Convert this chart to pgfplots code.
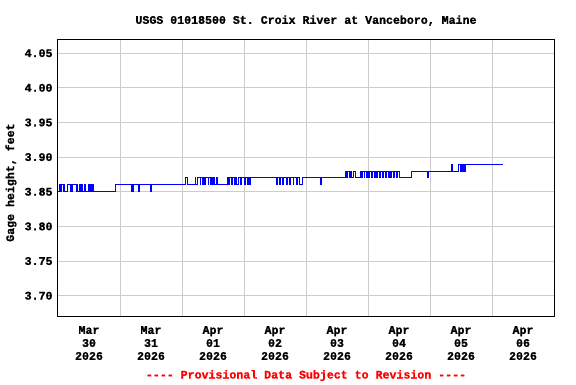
\documentclass[border=0pt]{standalone}
\usepackage{fontspec}
\setmonofont{Liberation Mono}[BoldFeatures={FakeBold=1.2}]
\usepackage{pgfplots}
\pgfplotsset{compat=1.18}
\newcommand\lab{\ttfamily\bfseries\fontsize{11.6}{13}\selectfont}
\pgfplotstableread{
x y
0.000 3.85
0.020 3.86
0.035 3.85
0.050 3.86
0.080 3.85
0.095 3.86
0.110 3.85
0.160 3.86
0.200 3.85
0.210 3.86
0.225 3.85
0.235 3.86
0.290 3.85
0.300 3.86
0.315 3.85
0.345 3.86
0.365 3.85
0.385 3.86
0.395 3.85
0.425 3.86
0.440 3.85
0.495 3.86
0.510 3.85
0.525 3.86
0.540 3.85
0.555 3.86
0.570 3.85
0.919 3.86
1.177 3.85
1.190 3.86
1.200 3.85
1.210 3.86
1.300 3.85
1.310 3.86
1.495 3.85
1.505 3.86
2.048 3.87
2.080 3.86
2.210 3.87
2.225 3.86
2.250 3.87
2.290 3.86
2.300 3.87
2.325 3.86
2.345 3.87
2.360 3.86
2.380 3.87
2.420 3.86
2.430 3.87
2.455 3.86
2.470 3.87
2.490 3.86
2.515 3.87
2.530 3.86
2.560 3.87
2.575 3.86
2.730 3.87
2.750 3.86
2.765 3.87
2.800 3.86
2.815 3.87
2.850 3.86
2.870 3.87
2.885 3.86
2.915 3.87
2.950 3.86
2.965 3.87
3.000 3.86
3.020 3.87
3.050 3.86
3.070 3.87
3.095 3.86
3.110 3.87
3.530 3.86
3.545 3.87
3.575 3.86
3.590 3.87
3.625 3.86
3.640 3.87
3.680 3.86
3.695 3.87
3.740 3.86
3.755 3.87
3.790 3.86
3.805 3.87
3.840 3.86
3.855 3.87
3.900 3.86
3.935 3.87
4.240 3.86
4.255 3.87
4.630 3.88
4.645 3.87
4.665 3.88
4.700 3.87
4.715 3.88
4.730 3.87
4.770 3.88
4.790 3.87
4.880 3.88
4.895 3.87
4.910 3.88
4.935 3.87
4.950 3.88
4.975 3.87
4.990 3.88
5.010 3.87
5.030 3.88
5.055 3.87
5.070 3.88
5.100 3.87
5.115 3.88
5.140 3.87
5.160 3.88
5.190 3.87
5.205 3.88
5.235 3.87
5.250 3.88
5.280 3.87
5.300 3.88
5.330 3.87
5.340 3.88
5.360 3.87
5.385 3.88
5.410 3.87
5.430 3.88
5.460 3.87
5.475 3.88
5.500 3.87
5.694 3.88
5.955 3.87
5.970 3.88
6.339 3.89
6.360 3.88
6.456 3.89
6.495 3.88
6.515 3.89
6.525 3.88
6.545 3.89
6.550 3.88
6.565 3.89
7.172 3.89
}\stage
\begin{document}
\begin{tikzpicture}
\path[use as bounding box] (0,0) rectangle (576pt,384pt);
\begin{axis}[
  at={(58pt,67.5pt)}, anchor=south west, scale only axis,
  width=496pt, height=277.2pt,
  xmin=0, xmax=8, ymin=3.67, ymax=4.07,
  xtick={0.5,1.5,2.5,3.5,4.5,5.5,6.5,7.5},
  xticklabels={{Mar\\30\\2026},{Mar\\31\\2026},{Apr\\01\\2026},{Apr\\02\\2026},{Apr\\03\\2026},{Apr\\04\\2026},{Apr\\05\\2026},{Apr\\06\\2026}},
  minor xtick={1,2,3,4,5,6,7},
  ytick={3.70,3.75,3.80,3.85,3.90,3.95,4.00,4.05},
  xmajorgrids=false, xminorgrids=true, ymajorgrids=true,
  grid style={color=black!20, line width=0.9pt},
  minor grid style={color=black!20, line width=0.9pt},
  major tick length=0pt, minor tick length=0pt,
  axis line style={line width=1pt, black},
  yticklabel style={font=\lab, inner sep=0pt, xshift=-5.3pt,
    /pgf/number format/.cd, fixed, fixed zerofill, precision=2, assume math mode=true},
  xticklabel style={font=\lab, align=center, anchor=north, inner sep=0pt, yshift=-9.5pt},
  title={USGS 01018500 St. Croix River at Vanceboro, Maine},
  title style={font=\lab, at={(axis description cs:0.5,1)}, anchor=base, yshift=9.5pt},
  ylabel={Gage height, feet},
  ylabel style={font=\lab, at={(axis description cs:-0.0948,0.483)}, anchor=center},
  xlabel={---- Provisional Data Subject to Revision ----},
  xlabel style={font=\lab, text=red, at={(axis description cs:0.5,0)}, anchor=base, yshift=-62pt},
]
\addplot[blue, line width=0.9pt, const plot] table[x=x, y=y] {\stage};
\end{axis}
\end{tikzpicture}
\end{document}
